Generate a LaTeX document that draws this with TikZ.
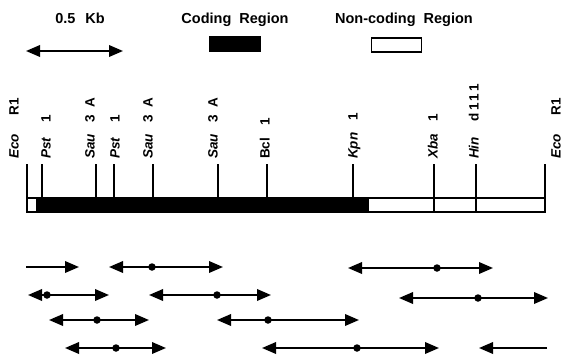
\documentclass[tikz,border=0pt]{standalone}
\usepackage{fontspec}
\setmainfont{Liberation Sans}
\usetikzlibrary{arrows.meta}

\tikzset{
  site/.style={rotate=90, anchor=west, inner sep=0pt, text height=10pt, text depth=3pt, font=\fontsize{13.5}{13.5}\selectfont\bfseries},
  siteline/.style={line width=1.6pt},
  frag/.style={line width=1.9pt, {Triangle[length=14pt,width=11.5pt]}-{Triangle[length=14pt,width=11.5pt]}},
  fragend/.style={line width=1.9pt, -{Triangle[length=14pt,width=11.5pt]}},
  cutdot/.style={circle, fill, inner sep=0pt, minimum size=7.5pt},
  legendtext/.style={anchor=base, font=\fontsize{14.5}{14.5}\selectfont\bfseries},
}

\begin{document}
\begin{tikzpicture}[x=1pt,y=-1pt]
                \useasboundingbox (0,0) rectangle (563,359);
                % Legend:
                \node[legendtext] (scaletxt) at (80,23) {0.5\hspace{10pt}Kb};
                \coordinate (scaleL) at (26,51);
                \coordinate (scaleR) at (123,51);
                \draw[frag] (scaleL) -- (scaleR);
                \node[legendtext] (codtxt) at (235,23) {Coding\hspace{8pt}Region};
                \node[fill, minimum width=52pt, minimum height=16pt, inner sep=0pt] (codbox) at (235,43.5) {};
                \node[legendtext] (nontxt) at (404,23) {Non-coding\hspace{8pt}Region};
                \node[draw, line width=1.6pt, minimum width=50pt, minimum height=14pt, inner sep=0pt] (nonbox) at (396.5,45) {};

                % Map bar and sites:
                \node[fill, minimum width=333pt, minimum height=14pt, inner sep=0pt] (coding) at (202.5,205) {};
                \node[draw, line width=1.6pt, minimum width=518pt, minimum height=14pt, inner sep=0pt] (map) at (286,205) {};
                \coordinate (ecoL) at (27,164);
                \coordinate (pstA) at (42,164);
                \coordinate (sauA) at (96,164);
                \coordinate (pstB) at (114,164);
                \coordinate (sauB) at (153,164);
                \coordinate (sauC) at (218,164);
                \coordinate (bcl) at (267,164);
                \coordinate (kpn) at (353,164);
                \coordinate (xba) at (434,164);
                \coordinate (hin) at (476,164);
                \coordinate (ecoR) at (545,164);
                \draw[siteline] (ecoL) -- (ecoL |- map.north);
                \draw[siteline] (pstA) -- (pstA |- map.north);
                \draw[siteline] (sauA) -- (sauA |- map.north);
                \draw[siteline] (pstB) -- (pstB |- map.north);
                \draw[siteline] (sauB) -- (sauB |- map.north);
                \draw[siteline] (sauC) -- (sauC |- map.north);
                \draw[siteline] (bcl) -- (bcl |- map.north);
                \draw[siteline] (kpn) -- (kpn |- map.north);
                \draw[siteline] (xba) -- (xba |- map.south);
                \draw[siteline] (hin) -- (hin |- map.south);
                \draw[siteline] (ecoR) -- (ecoR |- map.north);
                \node[site] (ecoLtxt) at (15,159) {\textit{Eco}\hspace{19pt}R1};
                \node[site] (pstAtxt) at (47,159) {\textit{Pst}\hspace{15pt}1};
                \node[site] (sauAtxt) at (91,159) {\textit{Sau}\hspace{12pt}3\hspace{7pt}A};
                \node[site] (pstBtxt) at (116,159) {\textit{Pst}\hspace{15pt}1};
                \node[site] (sauBtxt) at (149,159) {\textit{Sau}\hspace{12pt}3\hspace{7pt}A};
                \node[site] (sauCtxt) at (214,159) {\textit{Sau}\hspace{12pt}3\hspace{7pt}A};
                \node[site] (bcltxt) at (266,159) {Bcl\hspace{12pt}1};
                \node[site] (kpntxt) at (354,159) {\textit{Kpn}\hspace{12pt}1};
                \node[site] (xbatxt) at (434,159) {\textit{Xba}\hspace{13pt}1};
                \node[site] (hintxt) at (475,159) {\textit{Hin}\hspace{16pt}d\hspace{2pt}1\hspace{2pt}1\hspace{2pt}1};
                \node[site] (ecoRtxt) at (557,159) {\textit{Eco}\hspace{19pt}R1};

                % Fragments:
                \coordinate (a1) at (26,267);  \coordinate (a2) at (79,267);
                \draw[fragend] (a1) -- (a2);
                \coordinate (b1) at (109,267); \coordinate (b2) at (223,267);
                \draw[frag] (b1) -- (b2);
                \node[cutdot] (bdot) at (152,267) {};
                \coordinate (c1) at (348,268); \coordinate (c2) at (493,268);
                \draw[frag] (c1) -- (c2);
                \node[cutdot] (cdot) at (437,268) {};
                \coordinate (d1) at (28,295);  \coordinate (d2) at (109,295);
                \draw[frag] (d1) -- (d2);
                \node[cutdot] (ddot) at (47,295) {};
                \coordinate (e1) at (149,295); \coordinate (e2) at (271,295);
                \draw[frag] (e1) -- (e2);
                \node[cutdot] (edot) at (217,295) {};
                \coordinate (f1) at (399,298); \coordinate (f2) at (548,298);
                \draw[frag] (f1) -- (f2);
                \node[cutdot] (fdot) at (478,298) {};
                \coordinate (g1) at (49,320);  \coordinate (g2) at (149,320);
                \draw[frag] (g1) -- (g2);
                \node[cutdot] (gdot) at (97,320) {};
                \coordinate (h1) at (217,320); \coordinate (h2) at (359,320);
                \draw[frag] (h1) -- (h2);
                \node[cutdot] (hdot) at (268,320) {};
                \coordinate (i1) at (65,348);  \coordinate (i2) at (166,348);
                \draw[frag] (i1) -- (i2);
                \node[cutdot] (idot) at (116,348) {};
                \coordinate (j1) at (262,348); \coordinate (j2) at (439,348);
                \draw[frag] (j1) -- (j2);
                \node[cutdot] (jdot) at (357,348) {};
                \coordinate (k1) at (547,348); \coordinate (k2) at (479,348);
                \draw[fragend] (k1) -- (k2);
            \end{tikzpicture}
\end{document}
